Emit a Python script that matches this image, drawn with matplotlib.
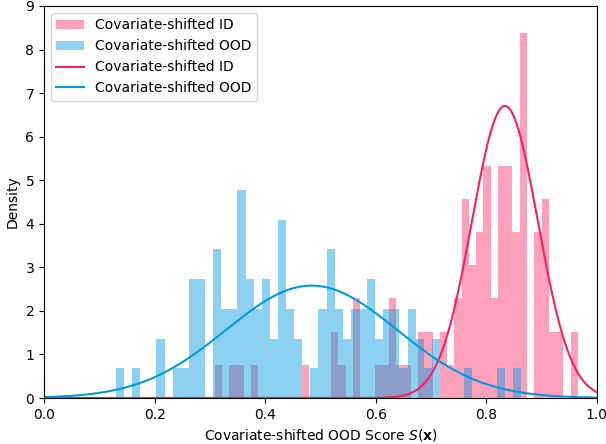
"""
Covariate-shifted ID vs OOD: score histograms with fitted normal curves
"""

import numpy as np
import matplotlib.pyplot as plt

plt.rcParams['font.family'] = 'DejaVu Sans'

# Histogram counts (50 bins each, 100 samples per set)
id_range = (0.309, 0.9655)
id_counts = [1, 0, 1, 1, 0, 1, 0, 0, 0, 0,
             0, 0, 1, 0, 0, 0, 2, 1, 0, 3,
             0, 0, 1, 1, 3, 1, 1, 0, 2, 2,
             0, 2, 1, 3, 6, 4, 5, 7, 3, 7,
             7, 5, 11, 0, 5, 6, 2, 2, 0, 2]

ood_range = (0.1302, 0.8626)
ood_counts = [1, 0, 1, 0, 0, 2, 0, 1, 1, 4,
              4, 0, 5, 3, 3, 7, 4, 3, 4, 2,
              6, 3, 2, 0, 1, 3, 5, 3, 2, 3,
              3, 4, 2, 3, 3, 1, 3, 2, 1, 2,
              0, 0, 0, 1, 0, 0, 0, 1, 0, 1]

# Fitted normal parameters (mean, std)
id_fit = (0.8336, 0.0595)
ood_fit = (0.484, 0.1546)

cor_id = '#ff1f5b'
cor_ood = '#009ade'
label_id = 'Covariate-shifted ID'
label_ood = 'Covariate-shifted OOD'


def normal_pdf(x, mu, sigma):
    return np.exp(-0.5 * ((x - mu) / sigma) ** 2) / (sigma * np.sqrt(2 * np.pi))


fig = plt.figure(figsize=(6.06, 4.44), dpi=100)
ax = fig.add_axes([0.0726, 0.1036, 0.9124, 0.8829])

for rng, counts, cor, alpha, label in [(id_range, id_counts, cor_id, 0.42, label_id),
                                       (ood_range, ood_counts, cor_ood, 0.45, label_ood)]:
    edges = np.linspace(rng[0], rng[1], len(counts) + 1)
    ax.hist(edges[:-1], bins=edges, weights=counts, density=True,
            color=cor, alpha=alpha, label=label)

xs = np.linspace(0, 1, 500)
ax.plot(xs, normal_pdf(xs, *id_fit), color=cor_id, linewidth=1.5, label=label_id)
ax.plot(xs, normal_pdf(xs, *ood_fit), color=cor_ood, linewidth=1.5, label=label_ood)

ax.set_xlim(0, 1)
ax.set_ylim(0, 9)
ax.set_xlabel(r'Covariate-shifted OOD Score $S(\mathbf{x})$')
ax.set_ylabel('Density')
ax.legend(loc='upper left')

fig.savefig('out.png', dpi=100)
plt.close(fig)
